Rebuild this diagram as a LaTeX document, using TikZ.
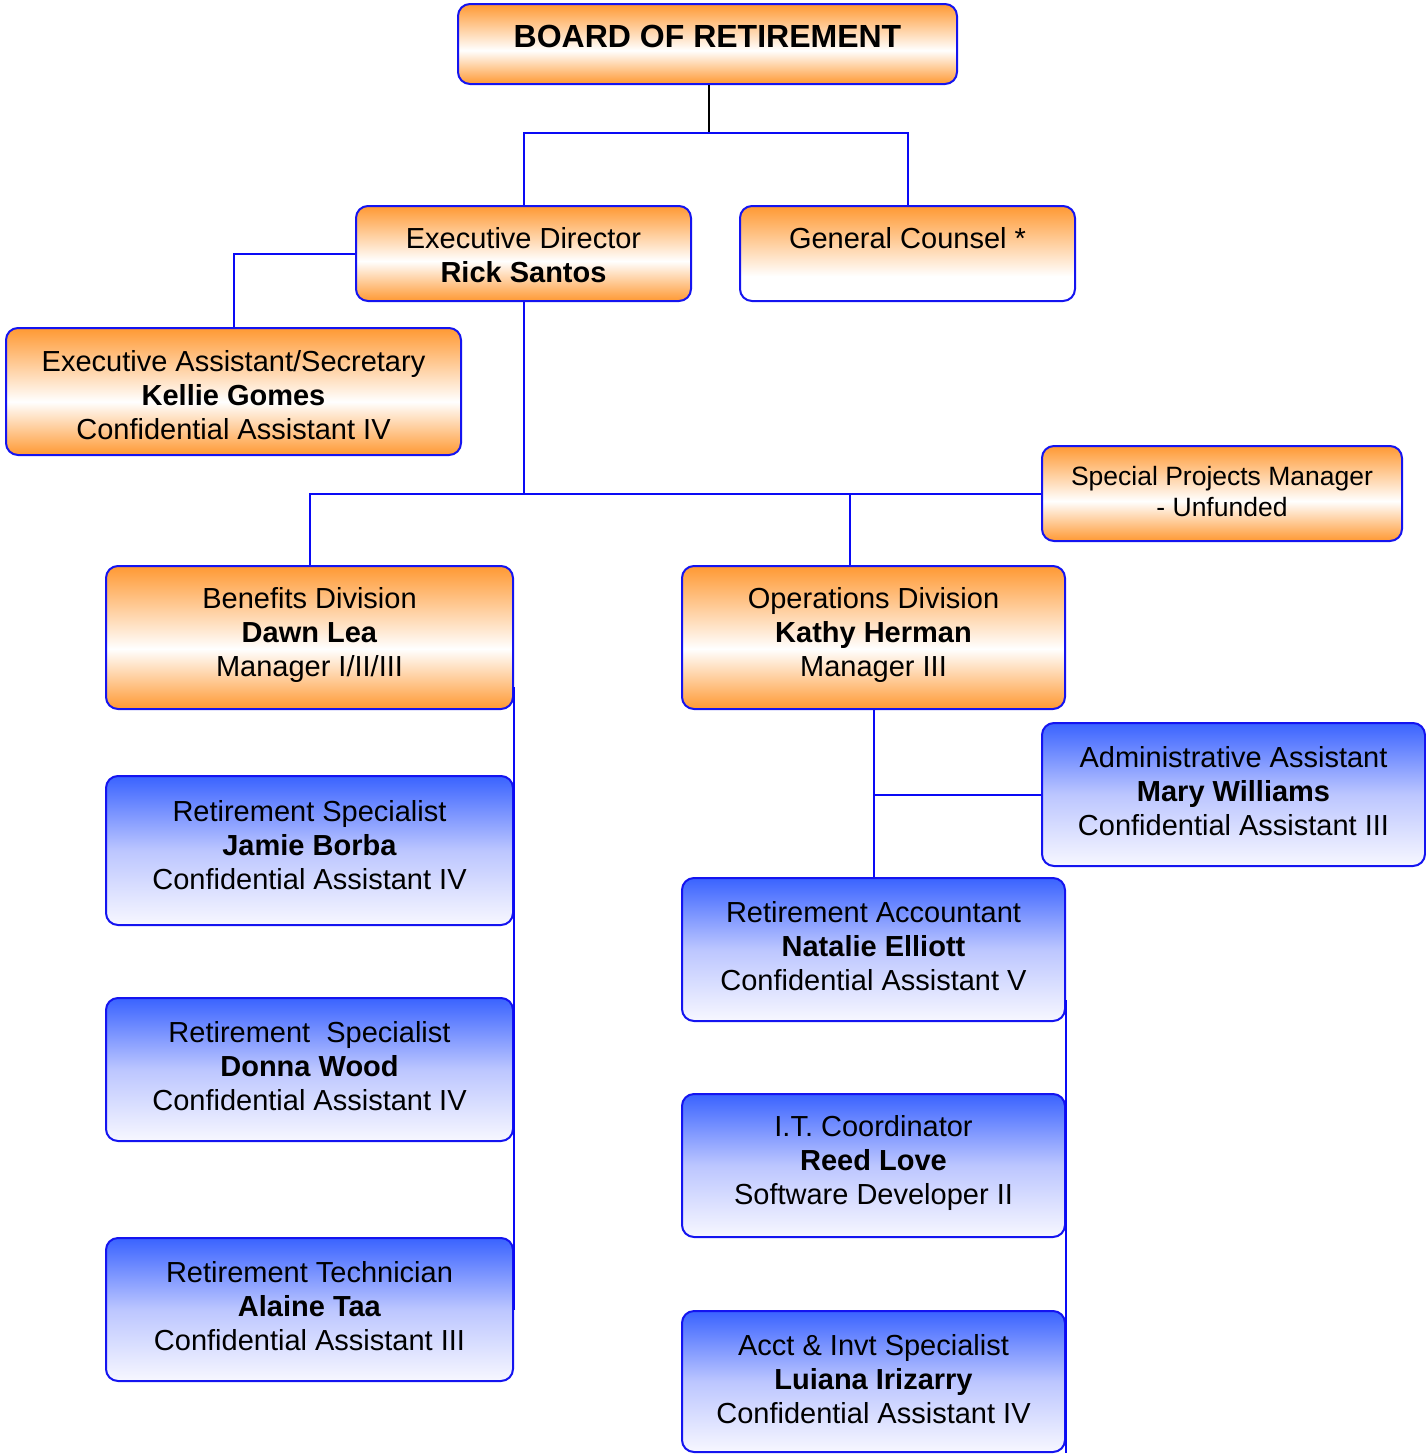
\documentclass[tikz,border=0pt]{standalone}
\usepackage{fontspec}
\setmainfont{Liberation Sans}
\definecolor{borange}{HTML}{FF9933}
\definecolor{btop}{HTML}{3A63FF}
\definecolor{bmid}{HTML}{BCC6FF}
\definecolor{bbot}{HTML}{F7F7FF}
\definecolor{bline}{HTML}{1414F0}
\definecolor{cline}{HTML}{0A0AF5}
\pgfdeclareverticalshading{oshade}{100bp}{color(0bp)=(borange); color(25bp)=(borange); color(46bp)=(white); color(75bp)=(borange); color(100bp)=(borange)}
\pgfdeclareverticalshading{gshade}{100bp}{color(0bp)=(white); color(25bp)=(white); color(38bp)=(white); color(75bp)=(borange); color(100bp)=(borange)}
\pgfdeclareverticalshading{bshade}{100bp}{color(0bp)=(bbot); color(25bp)=(bbot); color(50bp)=(bmid); color(75bp)=(btop); color(100bp)=(btop)}
\newcommand\fsznorm{\fontsize{29}{34}\selectfont}
\newcommand\fszsmall{\fontsize{26.5}{31}\selectfont}
\newcommand\fszbig{\fontsize{32}{36}\selectfont\bfseries}
\begin{document}
\begin{tikzpicture}[x=1pt,y=-1pt,
  basebox/.style={draw=bline,line width=2pt,rounded corners=12pt,inner sep=0pt,shade},
  obox/.style={basebox,shading=oshade},
  gbox/.style={basebox,shading=gshade},
  bbox/.style={basebox,shading=bshade},
  txt/.style={inner sep=0pt,align=center,font=\fsznorm},
  conn/.style={draw=cline,line width=2pt},
  blk/.style={draw=black,line width=2pt}]
\useasboundingbox (0,0) rectangle (1426,1454);

% boxes
\node[obox,minimum width=499pt,minimum height=80pt] (bor) at (707.5,44) {};
\node[obox,minimum width=335pt,minimum height=95pt] (ed) at (523.5,253.5) {};
\node[gbox,minimum width=335pt,minimum height=95pt] (gc) at (907.5,253.5) {};
\node[obox,minimum width=455pt,minimum height=127pt] (ea) at (233.5,391.5) {};
\node[obox,minimum width=360pt,minimum height=95pt] (sp) at (1222,493.5) {};
\node[obox,minimum width=407pt,minimum height=143pt] (ben) at (309.5,637.5) {};
\node[obox,minimum width=383pt,minimum height=143pt] (ops) at (873.5,637.5) {};
\node[bbox,minimum width=383pt,minimum height=143pt] (adm) at (1233.5,794.5) {};
\node[bbox,minimum width=407pt,minimum height=149pt] (rs1) at (309.5,850.5) {};
\node[bbox,minimum width=407pt,minimum height=143pt] (rs2) at (309.5,1069.5) {};
\node[bbox,minimum width=407pt,minimum height=143pt] (rt) at (309.5,1309.5) {};
\node[bbox,minimum width=383pt,minimum height=143pt] (ra) at (873.5,949.5) {};
\node[bbox,minimum width=383pt,minimum height=143pt] (it) at (873.5,1165.5) {};
\node[bbox,minimum width=383pt,minimum height=141pt] (ai) at (873.5,1381.5) {};

% connectors
\coordinate (topbar) at (709,133);
\coordinate (midbar) at (523,494);
\coordinate (opsj) at (850,494);
\coordinate (benline) at (513.5,687);
\coordinate (opsline) at (1065.5,1000);
\draw[blk] (bor.south -| topbar) -- (topbar);
\draw[conn] (ed.north) -- (ed.north |- topbar) -- (gc.north |- topbar) -- (gc.north);
\draw[conn] (ed.west) -| (ea.north);
\draw[conn] (ed.south) -- (ed.south |- midbar) -| (ben.north);
\draw[conn] (ed.south |- sp.west) -- (sp.west);
\draw[conn] (opsj) -- (opsj |- ops.north);
\draw[conn] (benline) -- (benline |- rt.east);
\draw[conn] (ops.south) -- (ra.north);
\draw[conn] (adm.west) -- (adm.west -| ops.south);
\draw[conn] (opsline) -- (opsline |- ai.south);

% texts
\node[txt,font=\fszbig] (bor-t) at (707.5,36) {BOARD OF RETIREMENT};
\node[txt] (ed-t) at (523.5,255) {Executive Director\\\textbf{Rick Santos}};
\node[txt] (gc-t) at (907.5,238) {General Counsel *};
\node[txt] (ea-t) at (233.5,395) {Executive Assistant/Secretary\\\textbf{Kellie Gomes}\\Confidential Assistant IV};
\node[txt,font=\fszsmall] (sp-t) at (1222,491.5) {Special Projects Manager\\- Unfunded};
\node[txt] (ben-t) at (309.5,635) {Benefits Division\\\textbf{Dawn Lea}\\Manager I/II/III};
\node[txt] (ops-t) at (873.5,635) {Operations Division\\\textbf{Kathy Herman}\\Manager III};
\node[txt] (adm-t) at (1233.5,791) {Administrative Assistant\\\textbf{Mary Williams}\\Confidential Assistant III};
\node[txt] (rs1-t) at (309.5,845) {Retirement Specialist\\\textbf{Jamie Borba}\\Confidential Assistant IV};
\node[txt] (rs2-t) at (309.5,1066) {Retirement~ Specialist\\\textbf{Donna Wood}\\Confidential Assistant IV};
\node[txt] (rt-t) at (309.5,1306) {Retirement Technician\\\textbf{Alaine Taa}\\Confidential Assistant III};
\node[txt] (ra-t) at (873.5,946) {Retirement Accountant\\\textbf{Natalie Elliott}\\Confidential Assistant V};
\node[txt] (it-t) at (873.5,1162.5) {I.T. Coordinator\\\textbf{Reed Love}\\Software Developer II};
\node[txt] (ai-t) at (873.5,1379) {Acct \& Invt Specialist\\\textbf{Luiana Irizarry}\\Confidential Assistant IV};
\end{tikzpicture}
\end{document}
